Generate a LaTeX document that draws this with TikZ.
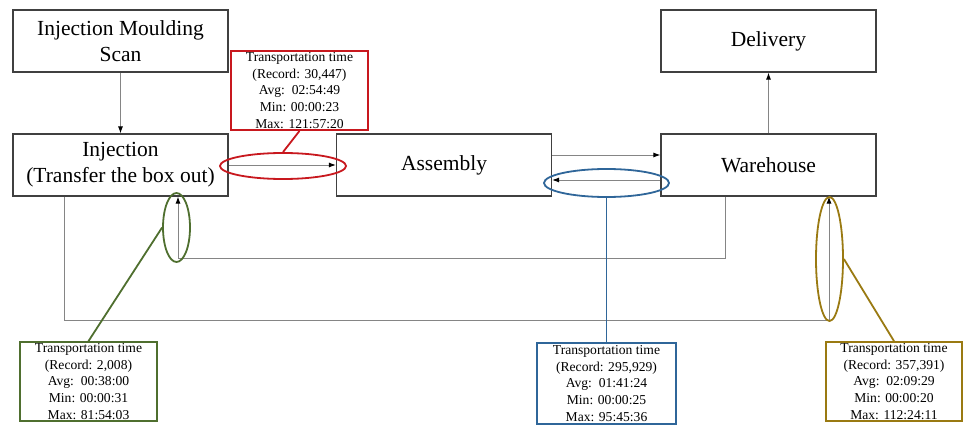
\documentclass[tikz,border=0pt]{standalone}
\usepackage{fontspec}
\setmainfont{Liberation Serif}
\usetikzlibrary{arrows.meta,shapes.geometric}
\definecolor{callred}{HTML}{C8181E}
\definecolor{callgreen}{HTML}{4F6F2F}
\definecolor{callblue}{HTML}{2F6699}
\definecolor{callolive}{HTML}{9A7A12}
\definecolor{boxline}{HTML}{404040}
\definecolor{connline}{HTML}{858585}
\tikzset{
  stage/.style={draw=boxline, line width=1.2pt, minimum width=215pt, minimum height=62pt,
    inner sep=0pt, align=center, font=\fontsize{21.5}{26}\selectfont},
  conn/.style={draw=connline, line width=0.9pt},
  tip/.style={-{Latex[length=7pt,width=5pt,color=black]}},
  ring/.style={draw=#1, ellipse, line width=1.8pt, inner sep=0pt},
  callbox/.style={draw=#1, line width=1.8pt, minimum width=137pt, minimum height=79pt, inner sep=0pt},
  calltext/.style={align=center, inner sep=0pt, font=\fontsize{13.6}{16.7}\selectfont},
  leader/.style={draw=#1, line width=1.8pt}
}
\begin{document}
\begin{tikzpicture}[x=1pt,y=-1pt]
\useasboundingbox (0,0) rectangle (963,425);

% process stages
\node[stage] (scan) at (120.5,41) {Injection Moulding\\Scan};
\node[stage] (inj)  at (120.5,165) {Injection\\(Transfer the box out)};
\node[stage] (asm)  at (444,165) {Assembly};
\node[stage] (wh)   at (768.5,165) {Warehouse};
\node[stage] (del)  at (768.5,41) {Delivery};

% material flow
\draw[conn,tip] (scan) -- (inj);
\draw[conn,tip] (inj.east) -- (asm.west);
\draw[conn,tip] ([yshift=10pt]asm.east) -- ([yshift=10pt]wh.west);
\draw[conn,tip] ([yshift=-15pt]wh.west) -- ([yshift=-15pt]asm.east);
\draw[conn,tip] (wh) -- (del);
\draw[conn,tip] ([xshift=-43.5pt]wh.south) -- ++(0,62) -| ([xshift=57.5pt]inj.south);
\draw[conn,tip] ([xshift=-56.5pt]inj.south) -- ++(0,124) -| ([xshift=60.5pt]wh.south);

% highlighted transport legs
\node[ring=callred,   minimum width=126pt, minimum height=26pt]  (rell) at (283,166) {};
\node[ring=callblue,  minimum width=125pt, minimum height=28pt]  (bell) at (606.5,183) {};
\node[ring=callgreen, minimum width=27pt,  minimum height=69pt]  (gell) at (176.5,227.5) {};
\node[ring=callolive, minimum width=27pt,  minimum height=124pt] (oell) at (829.5,259) {};

% transportation time callouts
\node[callbox=callred] (rbox) at (299.5,90.5) {};
\node[calltext] (rtxt) at (rbox.center) {Transportation time\\(Record: 30,447)\\Avg:~~02:54:49\\Min: 00:00:23\\Max: 121:57:20};
\node[callbox=callgreen] (gbox) at (88.5,381.5) {};
\node[calltext] (gtxt) at (gbox.center) {Transportation time\\(Record: 2,008)\\Avg:~~00:38:00\\Min: 00:00:31\\Max: 81:54:03};
\node[callbox=callblue, minimum width=139pt, minimum height=81pt] (bbox) at (606.5,383.5) {};
\node[calltext] (btxt) at (bbox.center) {Transportation time\\(Record: 295,929)\\Avg:~~01:41:24\\Min: 00:00:25\\Max: 95:45:36};
\node[callbox=callolive, minimum width=136pt] (obox) at (894,381.5) {};
\node[calltext] (otxt) at (obox.center) {Transportation time\\(Record: 357,391)\\Avg:~~02:09:29\\Min: 00:00:20\\Max: 112:24:11};

% leaders
\draw[leader=callred] (rbox.south) -- (rell.north);
\draw[leader=callgreen] (gbox.north) -- (gell.west);
\draw[leader=callblue] (bbox.north) -- (bell.south);
\draw[leader=callolive] (obox.north) -- (oell.east);
\end{tikzpicture}
\end{document}
